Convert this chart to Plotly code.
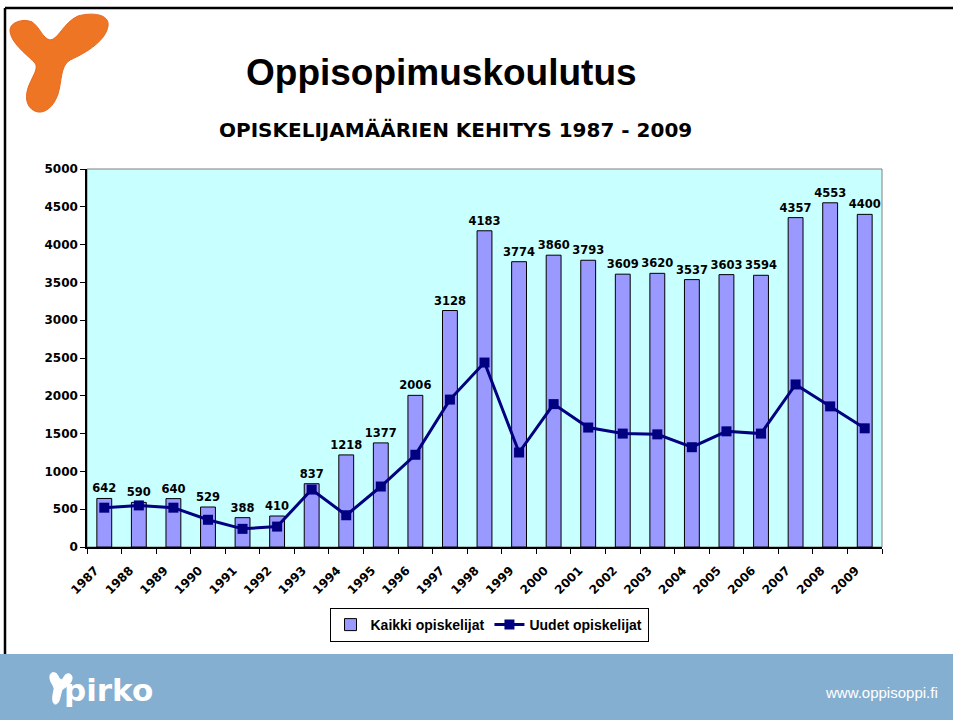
import plotly.graph_objects as go

years = [str(y) for y in range(1987, 2010)]
kaikki = [642, 590, 640, 529, 388, 410, 837, 1218, 1377, 2006, 3128, 4183, 3774,
          3860, 3793, 3609, 3620, 3537, 3603, 3594, 4357, 4553, 4400]
uudet = [520, 550, 520, 360, 240, 270, 760, 420, 800, 1220, 1950, 2440, 1250,
         1890, 1580, 1500, 1490, 1320, 1530, 1500, 2150, 1860, 1570]
y_ticks = [0, 500, 1000, 1500, 2000, 2500, 3000, 3500, 4000, 4500, 5000]

W, H = 953, 720
L, R, T, B = 87, 882, 169, 547


def px(x, y):
    return (x - L) / (R - L), (B - y) / (B - T)


def cpath(start, curves):
    x0, y0 = px(*start)
    s = f"M{x0:.5f},{y0:.5f} "
    for c in curves:
        a = px(*c[0]); b = px(*c[1]); d = px(*c[2])
        s += f"C{a[0]:.5f},{a[1]:.5f} {b[0]:.5f},{b[1]:.5f} {d[0]:.5f},{d[1]:.5f} "
    return s + "Z"


fig = go.Figure()
fig.add_trace(go.Bar(
    x=years, y=kaikki, name="Kaikki opiskelijat",
    marker=dict(color="#9999FF", line=dict(color="black", width=1)),
    width=0.43, text=[str(v) for v in kaikki], textposition="outside",
    constraintext="none",
    textfont=dict(family="DejaVu Sans", size=11.5, color="black", weight="bold"),
    cliponaxis=False,
))
fig.add_trace(go.Scatter(
    x=years, y=uudet, name="Uudet opiskelijat", mode="lines+markers",
    line=dict(color="#000080", width=3),
    marker=dict(symbol="square", size=10, color="#000080"),
))

shapes = []
shapes.append(dict(type="rect", xref="paper", yref="paper", x0=0, x1=1, y0=0, y1=1,
                   line=dict(color="#808080", width=1), layer="below"))
fx0, fy0 = px(-2, 654)
fx1, fy1 = px(W + 5, H + 5)
shapes.append(dict(type="rect", xref="paper", yref="paper", x0=fx0, x1=fx1, y0=fy1, y1=fy0,
                   fillcolor="#85AFD0", line=dict(width=0), layer="below"))
a = px(5, 8); b = px(W + 5, 8)
shapes.append(dict(type="line", xref="paper", yref="paper", x0=a[0], y0=a[1], x1=b[0], y1=b[1],
                   line=dict(color="black", width=2.5)))
c = px(5, 654)
shapes.append(dict(type="line", xref="paper", yref="paper", x0=a[0], y0=a[1], x1=c[0], y1=c[1],
                   line=dict(color="black", width=2.5)))
logo = cpath((10, 30), [
    ((10, 22), (24, 18), (32, 22)),
    ((40, 27), (42, 38), (50, 40)),
    ((58, 40), (64, 22), (78, 16)),
    ((92, 12), (110, 14), (108, 26)),
    ((106, 40), (88, 52), (70, 60)),
    ((60, 66), (62, 82), (58, 94)),
    ((54, 106), (46, 113), (38, 112)),
    ((28, 110), (24, 100), (28, 88)),
    ((32, 76), (40, 68), (34, 62)),
    ((26, 54), (10, 42), (10, 30)),
])
shapes.append(dict(type="path", xref="paper", yref="paper", path=logo,
                   fillcolor="#EE7524", line=dict(color="#E8681E", width=1)))
icon = cpath((50, 676), [
    ((50, 672), (56, 671), (58, 676)),
    ((60, 680), (62, 681), (64, 677)),
    ((66, 672), (73, 673), (72, 679)),
    ((71, 685), (65, 687), (62, 690)),
    ((60, 695), (60, 703), (56, 704)),
    ((52, 705), (52, 697), (54, 690)),
    ((55, 686), (49, 682), (50, 676)),
])
shapes.append(dict(type="path", xref="paper", yref="paper", path=icon,
                   fillcolor="white", line=dict(color="white", width=1)))

annotations = []
tx, ty = px(441, 72)
annotations.append(dict(xref="paper", yref="paper", x=tx, y=ty, text="Oppisopimuskoulutus",
                        showarrow=False, xanchor="center", yanchor="middle",
                        font=dict(family="Liberation Sans", size=37, color="black", weight="bold")))
sx, sy = px(455, 130)
annotations.append(dict(xref="paper", yref="paper", x=sx, y=sy,
                        text="OPISKELIJAMÄÄRIEN KEHITYS 1987 - 2009",
                        showarrow=False, xanchor="center", yanchor="middle",
                        font=dict(family="DejaVu Sans", size=20, color="black", weight="bold")))
wx, wy = px(940, 692)
annotations.append(dict(xref="paper", yref="paper", x=wx, y=wy, text="www.oppisoppi.fi",
                        showarrow=False, xanchor="right", yanchor="middle",
                        font=dict(family="Liberation Sans", size=15, color="white")))
px_, py_ = px(62, 690)
annotations.append(dict(xref="paper", yref="paper", x=px_, y=py_, text="pirko",
                        showarrow=False, xanchor="left", yanchor="middle",
                        font=dict(family="DejaVu Sans", size=31, color="white", weight="bold")))

lgx, lgy = px(489, 625)

fig.update_layout(
    width=W, height=H,
    margin=dict(l=L, r=W - R, t=T, b=H - B, pad=0),
    paper_bgcolor="white", plot_bgcolor="#C8FFFF",
    showlegend=True,
    legend=dict(orientation="h", x=lgx, y=lgy, xanchor="center", yanchor="middle",
                bordercolor="black", borderwidth=1, bgcolor="white",
                font=dict(family="Liberation Sans", size=14, color="black", weight="bold"),
                itemwidth=30, tracegroupgap=0),
    shapes=shapes, annotations=annotations,
    xaxis=dict(type="category", range=[-0.5, len(years) - 0.5], autorange=False,
               showgrid=False, showline=True, linecolor="black", linewidth=1.5,
               ticks="outside", tickson="boundaries", ticklen=5, tickcolor="black",
               tickangle=-45, ticklabelstandoff=10, ticklabelshift=-9,
               tickfont=dict(family="DejaVu Sans", size=12, color="black", weight="bold")),
    yaxis=dict(range=[0, 5000], tickvals=y_ticks, showgrid=False, showline=True,
               linecolor="black", linewidth=1.5, ticks="outside", ticklen=5, tickcolor="black",
               zeroline=False,
               tickfont=dict(family="DejaVu Sans", size=12, color="black", weight="bold")),
)

fig.write_html("out.html", config={"displayModeBar": False},
               post_script="document.body.style.margin='0';")
